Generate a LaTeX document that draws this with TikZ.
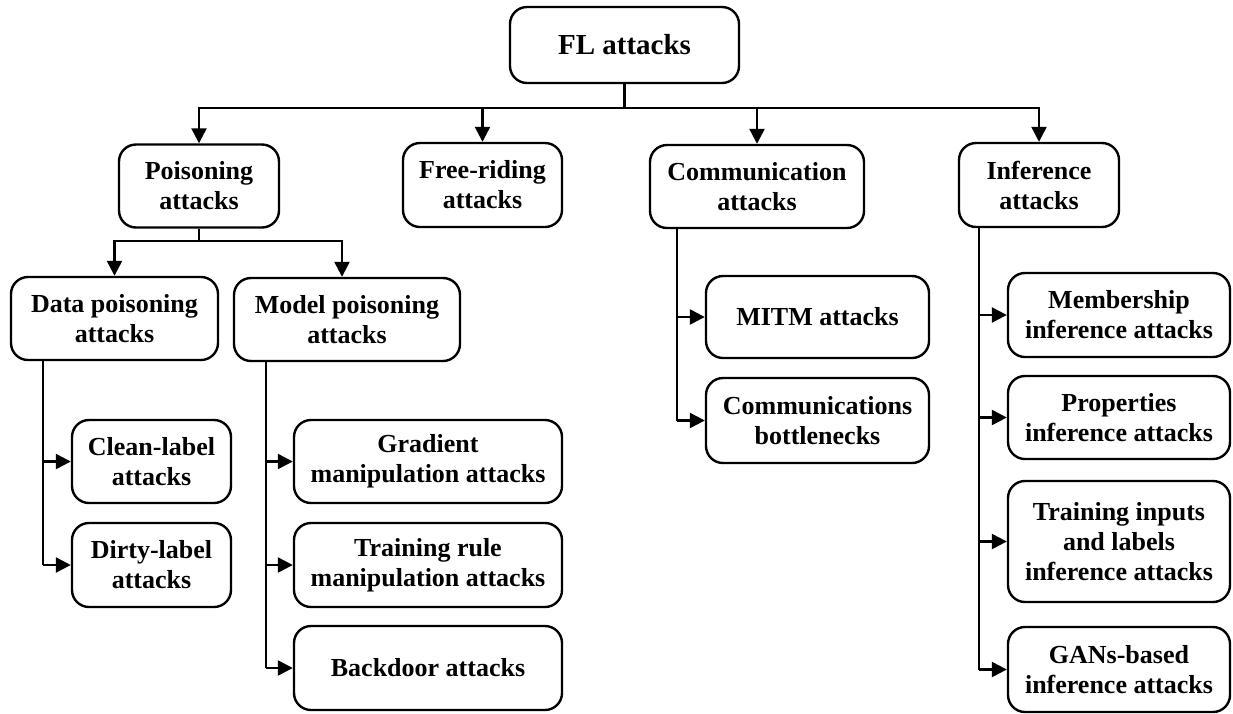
\documentclass[tikz,border=0pt]{standalone}
\usepackage{fontspec}
\setmainfont{Liberation Serif}
\usetikzlibrary{arrows.meta}
\begin{document}
\begin{tikzpicture}[x=1pt,y=-1pt,
  box/.style={draw=black,line width=2.4pt,rounded corners=17pt,align=center,
    inner sep=0pt,font=\fontsize{26}{30}\selectfont\bfseries},
  link/.style={line width=2.4pt,-{Triangle[width=15pt,length=15pt]}},
  plain/.style={line width=2.4pt}]
\useasboundingbox (0,0) rectangle (1233,713);
\fill[white] (0,0) rectangle (1233,713);

% root and first level
\node[box,minimum width=229,minimum height=76,font=\fontsize{29}{34}\selectfont\bfseries] (fl) at (624.5,45) {FL attacks};
\node[box,minimum width=160,minimum height=83] (pois) at (199,186) {Poisoning\\attacks};
\node[box,minimum width=159,minimum height=84] (free) at (482.5,185) {Free-riding\\attacks};
\node[box,minimum width=214,minimum height=83] (comm) at (757,186.5) {Communication\\attacks};
\node[box,minimum width=160,minimum height=84] (inf) at (1039,185) {Inference\\attacks};

% poisoning branch
\node[box,minimum width=207,minimum height=83] (data) at (114.5,318.5) {Data poisoning\\attacks};
\node[box,minimum width=226,minimum height=83] (model) at (347,319.5) {Model poisoning\\attacks};
\node[box,minimum width=159,minimum height=83] (clean) at (151.5,461.5) {Clean-label\\attacks};
\node[box,minimum width=159,minimum height=84] (dirty) at (151.5,565) {Dirty-label\\attacks};
\node[box,minimum width=268,minimum height=83] (grad) at (428,461.5) {Gradient\\manipulation attacks};
\node[box,minimum width=268,minimum height=84] (trule) at (428,565) {Training rule\\manipulation attacks};
\node[box,minimum width=268,minimum height=84] (back) at (428,668) {Backdoor attacks};

% communication branch
\node[box,minimum width=223,minimum height=82] (mitm) at (817.5,317) {MITM attacks};
\node[box,minimum width=223,minimum height=85] (bott) at (817.5,420.5) {Communications\\bottlenecks};

% inference branch
\node[box,minimum width=222,minimum height=84] (memb) at (1119,315) {Membership\\inference attacks};
\node[box,minimum width=222,minimum height=83] (prop) at (1119,417.5) {Properties\\inference attacks};
\node[box,minimum width=222,minimum height=121] (tin) at (1119,541.5) {Training inputs\\and labels\\inference attacks};
\node[box,minimum width=222,minimum height=85] (gans) at (1119,669.5) {GANs-based\\inference attacks};

% junction points
\coordinate (hub) at (624.5,108);
\coordinate (phub) at (199,241);
\coordinate (dtop) at (43,318.5);
\coordinate (mtop) at (266,319.5);
\coordinate (ctop) at (677,186.5);
\coordinate (itop) at (979,185);

% root to first level
\draw[plain] (fl.south) -- (hub);
\draw[link] (hub) -| (pois.north);
\draw[link] (hub) -| (free.north);
\draw[link] (hub) -| (comm.north);
\draw[link] (hub) -| (inf.north);

% poisoning split
\draw[plain] (pois.south) -- (phub);
\draw[link] (phub) -| (data.north);
\draw[link] (phub) -| ([xshift=-5pt]model.north);

% side trunks
\draw[plain] (dtop |- data.south) -- (dtop |- dirty.west);
\draw[link] (dtop |- clean.west) -- (clean.west);
\draw[link] (dtop |- dirty.west) -- (dirty.west);

\draw[plain] (mtop |- model.south) -- (mtop |- back.west);
\draw[link] (mtop |- grad.west) -- (grad.west);
\draw[link] (mtop |- trule.west) -- (trule.west);
\draw[link] (mtop |- back.west) -- (back.west);

\draw[plain] (ctop |- comm.south) -- (ctop |- bott.west);
\draw[link] (ctop |- mitm.west) -- (mitm.west);
\draw[link] (ctop |- bott.west) -- (bott.west);

\draw[plain] (itop |- inf.south) -- (itop |- gans.west);
\draw[link] (itop |- memb.west) -- (memb.west);
\draw[link] (itop |- prop.west) -- (prop.west);
\draw[link] (itop |- tin.west) -- (tin.west);
\draw[link] (itop |- gans.west) -- (gans.west);
\end{tikzpicture}
\end{document}
